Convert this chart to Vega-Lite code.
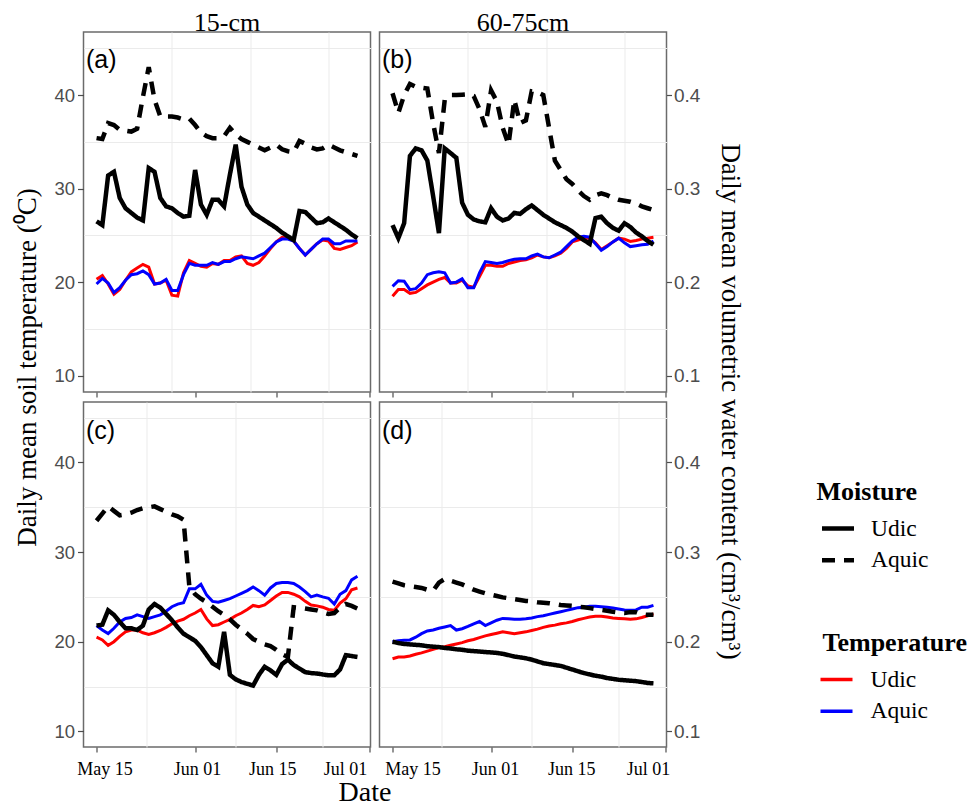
{
"$schema": "https://vega.github.io/schema/vega-lite/v6.json",
"background": "white",
"padding": {"left": 12.5, "top": 8, "right": 0, "bottom": 0},
"config": {
  "view": {"stroke": "#6b6b6b", "strokeWidth": 1.5},
  "axis": {"domain": false, "tickColor": "#4d4d4d", "tickWidth": 1.2, "gridColor": "#ebebeb", "gridWidth": 1, "labelFont": "Liberation Sans", "labelColor": "#4d4d4d", "titleFont": "Liberation Serif", "titleFontWeight": "normal", "titleColor": "black"},
  "title": {"font": "Liberation Serif", "fontSize": 26, "fontWeight": "normal", "color": "black"},
  "legend": {"titleFont": "Liberation Serif", "titleFontSize": 26, "titleFontWeight": "bold", "titleColor": "black", "labelFont": "Liberation Serif", "labelFontSize": 23.5, "labelColor": "black", "symbolType": "stroke", "symbolSize": 1024, "rowPadding": 1.7, "titlePadding": 5.5}
},
"datasets": {
"temp": [
{"p":"a","d":"2019-05-15","Udic":20.3,"Aquic":19.8},{"p":"a","d":"2019-05-16","Udic":20.7,"Aquic":20.4},{"p":"a","d":"2019-05-17","Udic":19.8,"Aquic":19.9},{"p":"a","d":"2019-05-18","Udic":18.7,"Aquic":18.9},{"p":"a","d":"2019-05-19","Udic":19.2,"Aquic":19.4},{"p":"a","d":"2019-05-20","Udic":20.2,"Aquic":20.2},{"p":"a","d":"2019-05-21","Udic":21.1,"Aquic":20.8},{"p":"a","d":"2019-05-22","Udic":21.5,"Aquic":20.9},{"p":"a","d":"2019-05-23","Udic":21.9,"Aquic":21.2},{"p":"a","d":"2019-05-24","Udic":21.6,"Aquic":20.8},{"p":"a","d":"2019-05-25","Udic":19.8,"Aquic":19.8},{"p":"a","d":"2019-05-26","Udic":19.9,"Aquic":19.9},{"p":"a","d":"2019-05-27","Udic":20.2,"Aquic":20.3},{"p":"a","d":"2019-05-28","Udic":18.6,"Aquic":19.1},{"p":"a","d":"2019-05-29","Udic":18.5,"Aquic":19.1},{"p":"a","d":"2019-05-30","Udic":21.0,"Aquic":20.8},{"p":"a","d":"2019-05-31","Udic":22.3,"Aquic":22.0},{"p":"a","d":"2019-06-01","Udic":22.0,"Aquic":21.8},{"p":"a","d":"2019-06-02","Udic":21.7,"Aquic":21.8},{"p":"a","d":"2019-06-03","Udic":21.6,"Aquic":21.8},{"p":"a","d":"2019-06-04","Udic":22.0,"Aquic":22.1},{"p":"a","d":"2019-06-05","Udic":21.9,"Aquic":21.9},{"p":"a","d":"2019-06-06","Udic":22.3,"Aquic":22.2},{"p":"a","d":"2019-06-07","Udic":22.3,"Aquic":22.2},{"p":"a","d":"2019-06-08","Udic":22.7,"Aquic":22.5},{"p":"a","d":"2019-06-09","Udic":22.8,"Aquic":22.7},{"p":"a","d":"2019-06-10","Udic":22.0,"Aquic":22.6},{"p":"a","d":"2019-06-11","Udic":21.8,"Aquic":22.5},{"p":"a","d":"2019-06-12","Udic":22.1,"Aquic":22.8},{"p":"a","d":"2019-06-13","Udic":22.8,"Aquic":23.1},{"p":"a","d":"2019-06-14","Udic":23.6,"Aquic":23.7},{"p":"a","d":"2019-06-15","Udic":24.3,"Aquic":24.3},{"p":"a","d":"2019-06-16","Udic":24.8,"Aquic":24.6},{"p":"a","d":"2019-06-17","Udic":24.7,"Aquic":24.6},{"p":"a","d":"2019-06-18","Udic":24.4,"Aquic":24.4},{"p":"a","d":"2019-06-19","Udic":23.6,"Aquic":23.6},{"p":"a","d":"2019-06-20","Udic":22.9,"Aquic":22.9},{"p":"a","d":"2019-06-21","Udic":23.5,"Aquic":23.5},{"p":"a","d":"2019-06-22","Udic":24.1,"Aquic":24.1},{"p":"a","d":"2019-06-23","Udic":24.5,"Aquic":24.6},{"p":"a","d":"2019-06-24","Udic":24.4,"Aquic":24.6},{"p":"a","d":"2019-06-25","Udic":23.6,"Aquic":24.1},{"p":"a","d":"2019-06-26","Udic":23.5,"Aquic":24.1},{"p":"a","d":"2019-06-27","Udic":23.7,"Aquic":24.4},{"p":"a","d":"2019-06-28","Udic":23.9,"Aquic":24.4},{"p":"a","d":"2019-06-29","Udic":24.3,"Aquic":24.4},
{"p":"b","d":"2019-05-15","Udic":18.5,"Aquic":19.55},{"p":"b","d":"2019-05-16","Udic":19.2,"Aquic":20.15},{"p":"b","d":"2019-05-17","Udic":19.2,"Aquic":20.1},{"p":"b","d":"2019-05-18","Udic":18.8,"Aquic":19.2},{"p":"b","d":"2019-05-19","Udic":18.9,"Aquic":19.3},{"p":"b","d":"2019-05-20","Udic":19.3,"Aquic":19.9},{"p":"b","d":"2019-05-21","Udic":19.7,"Aquic":20.8},{"p":"b","d":"2019-05-22","Udic":20.0,"Aquic":21.0},{"p":"b","d":"2019-05-23","Udic":20.3,"Aquic":21.1},{"p":"b","d":"2019-05-24","Udic":20.5,"Aquic":21.0},{"p":"b","d":"2019-05-25","Udic":19.9,"Aquic":19.9},{"p":"b","d":"2019-05-26","Udic":19.9,"Aquic":20.0},{"p":"b","d":"2019-05-27","Udic":20.2,"Aquic":20.35},{"p":"b","d":"2019-05-28","Udic":19.6,"Aquic":19.4},{"p":"b","d":"2019-05-29","Udic":19.45,"Aquic":19.4},{"p":"b","d":"2019-05-30","Udic":20.6,"Aquic":21.0},{"p":"b","d":"2019-05-31","Udic":21.8,"Aquic":22.2},{"p":"b","d":"2019-06-01","Udic":21.8,"Aquic":22.1},{"p":"b","d":"2019-06-02","Udic":21.7,"Aquic":22.0},{"p":"b","d":"2019-06-03","Udic":21.7,"Aquic":22.1},{"p":"b","d":"2019-06-04","Udic":22.0,"Aquic":22.3},{"p":"b","d":"2019-06-05","Udic":22.15,"Aquic":22.45},{"p":"b","d":"2019-06-06","Udic":22.3,"Aquic":22.5},{"p":"b","d":"2019-06-07","Udic":22.4,"Aquic":22.5},{"p":"b","d":"2019-06-08","Udic":22.6,"Aquic":22.8},{"p":"b","d":"2019-06-09","Udic":22.9,"Aquic":23.0},{"p":"b","d":"2019-06-10","Udic":22.7,"Aquic":22.7},{"p":"b","d":"2019-06-11","Udic":22.6,"Aquic":22.6},{"p":"b","d":"2019-06-12","Udic":22.8,"Aquic":22.9},{"p":"b","d":"2019-06-13","Udic":23.1,"Aquic":23.2},{"p":"b","d":"2019-06-14","Udic":23.6,"Aquic":23.8},{"p":"b","d":"2019-06-15","Udic":24.3,"Aquic":24.4},{"p":"b","d":"2019-06-16","Udic":24.5,"Aquic":24.8},{"p":"b","d":"2019-06-17","Udic":24.7,"Aquic":24.9},{"p":"b","d":"2019-06-18","Udic":24.7,"Aquic":24.8},{"p":"b","d":"2019-06-19","Udic":24.2,"Aquic":24.1},{"p":"b","d":"2019-06-20","Udic":23.5,"Aquic":23.4},{"p":"b","d":"2019-06-21","Udic":23.9,"Aquic":23.8},{"p":"b","d":"2019-06-22","Udic":24.3,"Aquic":24.3},{"p":"b","d":"2019-06-23","Udic":24.7,"Aquic":24.7},{"p":"b","d":"2019-06-24","Udic":24.6,"Aquic":24.2},{"p":"b","d":"2019-06-25","Udic":24.35,"Aquic":23.8},{"p":"b","d":"2019-06-26","Udic":24.45,"Aquic":23.9},{"p":"b","d":"2019-06-27","Udic":24.6,"Aquic":24.0},{"p":"b","d":"2019-06-28","Udic":24.7,"Aquic":24.05},{"p":"b","d":"2019-06-29","Udic":24.8,"Aquic":24.4},
{"p":"c","d":"2019-05-15","Udic":20.5,"Aquic":21.8},{"p":"c","d":"2019-05-16","Udic":20.2,"Aquic":21.3},{"p":"c","d":"2019-05-17","Udic":19.6,"Aquic":20.9},{"p":"c","d":"2019-05-18","Udic":20.0,"Aquic":21.5},{"p":"c","d":"2019-05-19","Udic":20.6,"Aquic":22.2},{"p":"c","d":"2019-05-20","Udic":21.1,"Aquic":22.6},{"p":"c","d":"2019-05-21","Udic":21.3,"Aquic":22.7},{"p":"c","d":"2019-05-22","Udic":21.3,"Aquic":23.0},{"p":"c","d":"2019-05-23","Udic":21.0,"Aquic":22.8},{"p":"c","d":"2019-05-24","Udic":20.8,"Aquic":22.6},{"p":"c","d":"2019-05-25","Udic":21.0,"Aquic":22.8},{"p":"c","d":"2019-05-26","Udic":21.25,"Aquic":23.0},{"p":"c","d":"2019-05-27","Udic":21.6,"Aquic":23.4},{"p":"c","d":"2019-05-28","Udic":22.0,"Aquic":23.9},{"p":"c","d":"2019-05-29","Udic":22.3,"Aquic":24.2},{"p":"c","d":"2019-05-30","Udic":22.5,"Aquic":24.35},{"p":"c","d":"2019-05-31","Udic":22.9,"Aquic":25.9},{"p":"c","d":"2019-06-01","Udic":23.2,"Aquic":25.9},{"p":"c","d":"2019-06-02","Udic":23.6,"Aquic":26.4},{"p":"c","d":"2019-06-03","Udic":22.55,"Aquic":25.2},{"p":"c","d":"2019-06-04","Udic":21.8,"Aquic":24.5},{"p":"c","d":"2019-06-05","Udic":21.9,"Aquic":24.4},{"p":"c","d":"2019-06-06","Udic":22.2,"Aquic":24.6},{"p":"c","d":"2019-06-07","Udic":22.5,"Aquic":24.8},{"p":"c","d":"2019-06-08","Udic":22.9,"Aquic":25.1},{"p":"c","d":"2019-06-09","Udic":23.2,"Aquic":25.4},{"p":"c","d":"2019-06-10","Udic":23.6,"Aquic":25.7},{"p":"c","d":"2019-06-11","Udic":24.05,"Aquic":26.1},{"p":"c","d":"2019-06-12","Udic":23.9,"Aquic":25.7},{"p":"c","d":"2019-06-13","Udic":24.1,"Aquic":25.2},{"p":"c","d":"2019-06-14","Udic":24.6,"Aquic":26.0},{"p":"c","d":"2019-06-15","Udic":25.1,"Aquic":26.5},{"p":"c","d":"2019-06-16","Udic":25.5,"Aquic":26.6},{"p":"c","d":"2019-06-17","Udic":25.5,"Aquic":26.6},{"p":"c","d":"2019-06-18","Udic":25.3,"Aquic":26.5},{"p":"c","d":"2019-06-19","Udic":25.0,"Aquic":26.1},{"p":"c","d":"2019-06-20","Udic":24.5,"Aquic":25.6},{"p":"c","d":"2019-06-21","Udic":24.1,"Aquic":25.0},{"p":"c","d":"2019-06-22","Udic":24.0,"Aquic":25.2},{"p":"c","d":"2019-06-23","Udic":23.85,"Aquic":25.0},{"p":"c","d":"2019-06-24","Udic":23.6,"Aquic":24.85},{"p":"c","d":"2019-06-25","Udic":23.5,"Aquic":24.2},{"p":"c","d":"2019-06-26","Udic":24.3,"Aquic":25.3},{"p":"c","d":"2019-06-27","Udic":24.8,"Aquic":25.7},{"p":"c","d":"2019-06-28","Udic":25.8,"Aquic":26.9},{"p":"c","d":"2019-06-29","Udic":26.0,"Aquic":27.3},
{"p":"d","d":"2019-05-15","Udic":18.1,"Aquic":20.0},{"p":"d","d":"2019-05-16","Udic":18.3,"Aquic":20.1},{"p":"d","d":"2019-05-17","Udic":18.3,"Aquic":20.15},{"p":"d","d":"2019-05-18","Udic":18.4,"Aquic":20.2},{"p":"d","d":"2019-05-19","Udic":18.6,"Aquic":20.5},{"p":"d","d":"2019-05-20","Udic":18.75,"Aquic":20.9},{"p":"d","d":"2019-05-21","Udic":18.95,"Aquic":21.2},{"p":"d","d":"2019-05-22","Udic":19.15,"Aquic":21.3},{"p":"d","d":"2019-05-23","Udic":19.35,"Aquic":21.5},{"p":"d","d":"2019-05-24","Udic":19.45,"Aquic":21.65},{"p":"d","d":"2019-05-25","Udic":19.6,"Aquic":21.8},{"p":"d","d":"2019-05-26","Udic":19.75,"Aquic":21.3},{"p":"d","d":"2019-05-27","Udic":19.9,"Aquic":21.45},{"p":"d","d":"2019-05-28","Udic":20.1,"Aquic":21.7},{"p":"d","d":"2019-05-29","Udic":20.25,"Aquic":22.0},{"p":"d","d":"2019-05-30","Udic":20.45,"Aquic":22.25},{"p":"d","d":"2019-05-31","Udic":20.65,"Aquic":21.8},{"p":"d","d":"2019-06-01","Udic":20.8,"Aquic":22.1},{"p":"d","d":"2019-06-02","Udic":20.95,"Aquic":22.4},{"p":"d","d":"2019-06-03","Udic":21.1,"Aquic":22.6},{"p":"d","d":"2019-06-04","Udic":21.0,"Aquic":22.55},{"p":"d","d":"2019-06-05","Udic":20.9,"Aquic":22.5},{"p":"d","d":"2019-06-06","Udic":21.0,"Aquic":22.5},{"p":"d","d":"2019-06-07","Udic":21.1,"Aquic":22.55},{"p":"d","d":"2019-06-08","Udic":21.25,"Aquic":22.65},{"p":"d","d":"2019-06-09","Udic":21.4,"Aquic":22.8},{"p":"d","d":"2019-06-10","Udic":21.6,"Aquic":22.9},{"p":"d","d":"2019-06-11","Udic":21.75,"Aquic":23.05},{"p":"d","d":"2019-06-12","Udic":21.85,"Aquic":23.2},{"p":"d","d":"2019-06-13","Udic":22.0,"Aquic":23.35},{"p":"d","d":"2019-06-14","Udic":22.1,"Aquic":23.5},{"p":"d","d":"2019-06-15","Udic":22.25,"Aquic":23.65},{"p":"d","d":"2019-06-16","Udic":22.45,"Aquic":23.8},{"p":"d","d":"2019-06-17","Udic":22.6,"Aquic":23.85},{"p":"d","d":"2019-06-18","Udic":22.75,"Aquic":23.95},{"p":"d","d":"2019-06-19","Udic":22.85,"Aquic":23.95},{"p":"d","d":"2019-06-20","Udic":22.85,"Aquic":23.9},{"p":"d","d":"2019-06-21","Udic":22.75,"Aquic":23.85},{"p":"d","d":"2019-06-22","Udic":22.65,"Aquic":23.75},{"p":"d","d":"2019-06-23","Udic":22.6,"Aquic":23.65},{"p":"d","d":"2019-06-24","Udic":22.55,"Aquic":23.55},{"p":"d","d":"2019-06-25","Udic":22.5,"Aquic":23.5},{"p":"d","d":"2019-06-26","Udic":22.55,"Aquic":23.55},{"p":"d","d":"2019-06-27","Udic":22.7,"Aquic":23.85},{"p":"d","d":"2019-06-28","Udic":22.9,"Aquic":23.85},{"p":"d","d":"2019-06-29","Udic":23.1,"Aquic":24.05}
],
"moist": [
{"p":"a","d":"2019-05-15","Udic":0.265,"Aquic":0.354},{"p":"a","d":"2019-05-16","Udic":0.261,"Aquic":0.353},{"p":"a","d":"2019-05-17","Udic":0.314,"Aquic":0.370},{"p":"a","d":"2019-05-18","Udic":0.318,"Aquic":0.368},{"p":"a","d":"2019-05-19","Udic":0.290,"Aquic":0.363},{"p":"a","d":"2019-05-20","Udic":0.279,"Aquic":0.362},{"p":"a","d":"2019-05-21","Udic":0.274,"Aquic":0.361},{"p":"a","d":"2019-05-22","Udic":0.269,"Aquic":0.364},{"p":"a","d":"2019-05-23","Udic":0.266,"Aquic":0.398},{"p":"a","d":"2019-05-24","Udic":0.322,"Aquic":0.430},{"p":"a","d":"2019-05-25","Udic":0.318,"Aquic":0.395},{"p":"a","d":"2019-05-26","Udic":0.290,"Aquic":0.377},{"p":"a","d":"2019-05-27","Udic":0.281,"Aquic":0.377},{"p":"a","d":"2019-05-28","Udic":0.279,"Aquic":0.377},{"p":"a","d":"2019-05-29","Udic":0.274,"Aquic":0.376},{"p":"a","d":"2019-05-30","Udic":0.270,"Aquic":0.374},{"p":"a","d":"2019-05-31","Udic":0.271,"Aquic":0.375},{"p":"a","d":"2019-06-01","Udic":0.320,"Aquic":0.368},{"p":"a","d":"2019-06-02","Udic":0.283,"Aquic":0.360},{"p":"a","d":"2019-06-03","Udic":0.272,"Aquic":0.356},{"p":"a","d":"2019-06-04","Udic":0.288,"Aquic":0.354},{"p":"a","d":"2019-06-05","Udic":0.288,"Aquic":0.354},{"p":"a","d":"2019-06-06","Udic":0.281,"Aquic":0.356},{"p":"a","d":"2019-06-07","Udic":0.315,"Aquic":0.365},{"p":"a","d":"2019-06-08","Udic":0.347,"Aquic":0.358},{"p":"a","d":"2019-06-09","Udic":0.302,"Aquic":0.353},{"p":"a","d":"2019-06-10","Udic":0.283,"Aquic":0.350},{"p":"a","d":"2019-06-11","Udic":0.274,"Aquic":0.347},{"p":"a","d":"2019-06-12","Udic":0.270,"Aquic":0.344},{"p":"a","d":"2019-06-13","Udic":0.266,"Aquic":0.341},{"p":"a","d":"2019-06-14","Udic":0.262,"Aquic":0.344},{"p":"a","d":"2019-06-15","Udic":0.258,"Aquic":0.347},{"p":"a","d":"2019-06-16","Udic":0.253,"Aquic":0.342},{"p":"a","d":"2019-06-17","Udic":0.249,"Aquic":0.340},{"p":"a","d":"2019-06-18","Udic":0.245,"Aquic":0.339},{"p":"a","d":"2019-06-19","Udic":0.276,"Aquic":0.351},{"p":"a","d":"2019-06-20","Udic":0.275,"Aquic":0.348},{"p":"a","d":"2019-06-21","Udic":0.269,"Aquic":0.344},{"p":"a","d":"2019-06-22","Udic":0.263,"Aquic":0.342},{"p":"a","d":"2019-06-23","Udic":0.264,"Aquic":0.343},{"p":"a","d":"2019-06-24","Udic":0.268,"Aquic":0.347},{"p":"a","d":"2019-06-25","Udic":0.264,"Aquic":0.344},{"p":"a","d":"2019-06-26","Udic":0.260,"Aquic":0.341},{"p":"a","d":"2019-06-27","Udic":0.256,"Aquic":0.339},{"p":"a","d":"2019-06-28","Udic":0.251,"Aquic":0.337},{"p":"a","d":"2019-06-29","Udic":0.247,"Aquic":0.335},
{"p":"b","d":"2019-05-15","Udic":0.261,"Aquic":0.402},{"p":"b","d":"2019-05-16","Udic":0.247,"Aquic":0.381},{"p":"b","d":"2019-05-17","Udic":0.263,"Aquic":0.400},{"p":"b","d":"2019-05-18","Udic":0.335,"Aquic":0.412},{"p":"b","d":"2019-05-19","Udic":0.343,"Aquic":0.409},{"p":"b","d":"2019-05-20","Udic":0.341,"Aquic":0.408},{"p":"b","d":"2019-05-21","Udic":0.330,"Aquic":0.407},{"p":"b","d":"2019-05-22","Udic":0.292,"Aquic":0.370},{"p":"b","d":"2019-05-23","Udic":0.2525,"Aquic":0.338},{"p":"b","d":"2019-05-24","Udic":0.343,"Aquic":0.395},{"p":"b","d":"2019-05-25","Udic":0.338,"Aquic":0.400},{"p":"b","d":"2019-05-26","Udic":0.333,"Aquic":0.400},{"p":"b","d":"2019-05-27","Udic":0.285,"Aquic":0.4005},{"p":"b","d":"2019-05-28","Udic":0.272,"Aquic":0.401},{"p":"b","d":"2019-05-29","Udic":0.267,"Aquic":0.399},{"p":"b","d":"2019-05-30","Udic":0.265,"Aquic":0.385},{"p":"b","d":"2019-05-31","Udic":0.264,"Aquic":0.366},{"p":"b","d":"2019-06-01","Udic":0.279,"Aquic":0.405},{"p":"b","d":"2019-06-02","Udic":0.270,"Aquic":0.393},{"p":"b","d":"2019-06-03","Udic":0.266,"Aquic":0.365},{"p":"b","d":"2019-06-04","Udic":0.268,"Aquic":0.347},{"p":"b","d":"2019-06-05","Udic":0.274,"Aquic":0.395},{"p":"b","d":"2019-06-06","Udic":0.273,"Aquic":0.370},{"p":"b","d":"2019-06-07","Udic":0.278,"Aquic":0.373},{"p":"b","d":"2019-06-08","Udic":0.282,"Aquic":0.404},{"p":"b","d":"2019-06-09","Udic":0.277,"Aquic":0.403},{"p":"b","d":"2019-06-10","Udic":0.272,"Aquic":0.400},{"p":"b","d":"2019-06-11","Udic":0.268,"Aquic":0.365},{"p":"b","d":"2019-06-12","Udic":0.264,"Aquic":0.330},{"p":"b","d":"2019-06-13","Udic":0.261,"Aquic":0.320},{"p":"b","d":"2019-06-14","Udic":0.258,"Aquic":0.310},{"p":"b","d":"2019-06-15","Udic":0.254,"Aquic":0.305},{"p":"b","d":"2019-06-16","Udic":0.249,"Aquic":0.298},{"p":"b","d":"2019-06-17","Udic":0.245,"Aquic":0.292},{"p":"b","d":"2019-06-18","Udic":0.241,"Aquic":0.288},{"p":"b","d":"2019-06-19","Udic":0.2685,"Aquic":0.293},{"p":"b","d":"2019-06-20","Udic":0.270,"Aquic":0.295},{"p":"b","d":"2019-06-21","Udic":0.263,"Aquic":0.293},{"p":"b","d":"2019-06-22","Udic":0.258,"Aquic":0.290},{"p":"b","d":"2019-06-23","Udic":0.255,"Aquic":0.288},{"p":"b","d":"2019-06-24","Udic":0.263,"Aquic":0.287},{"p":"b","d":"2019-06-25","Udic":0.259,"Aquic":0.286},{"p":"b","d":"2019-06-26","Udic":0.253,"Aquic":0.284},{"p":"b","d":"2019-06-27","Udic":0.249,"Aquic":0.281},{"p":"b","d":"2019-06-28","Udic":0.244,"Aquic":0.279},{"p":"b","d":"2019-06-29","Udic":0.240,"Aquic":0.277},
{"p":"c","d":"2019-05-15","Udic":0.218,"Aquic":0.335},{"p":"c","d":"2019-05-16","Udic":0.219,"Aquic":0.343},{"p":"c","d":"2019-05-17","Udic":0.235,"Aquic":0.351},{"p":"c","d":"2019-05-18","Udic":0.230,"Aquic":0.346},{"p":"c","d":"2019-05-19","Udic":0.222,"Aquic":0.341},{"p":"c","d":"2019-05-20","Udic":0.215,"Aquic":0.342},{"p":"c","d":"2019-05-21","Udic":0.215,"Aquic":0.344},{"p":"c","d":"2019-05-22","Udic":0.213,"Aquic":0.347},{"p":"c","d":"2019-05-23","Udic":0.218,"Aquic":0.349},{"p":"c","d":"2019-05-24","Udic":0.236,"Aquic":0.350},{"p":"c","d":"2019-05-25","Udic":0.242,"Aquic":0.351},{"p":"c","d":"2019-05-26","Udic":0.238,"Aquic":0.348},{"p":"c","d":"2019-05-27","Udic":0.231,"Aquic":0.345},{"p":"c","d":"2019-05-28","Udic":0.224,"Aquic":0.342},{"p":"c","d":"2019-05-29","Udic":0.216,"Aquic":0.340},{"p":"c","d":"2019-05-30","Udic":0.209,"Aquic":0.336},{"p":"c","d":"2019-05-31","Udic":0.205,"Aquic":0.262},{"p":"c","d":"2019-06-01","Udic":0.201,"Aquic":0.253},{"p":"c","d":"2019-06-02","Udic":0.194,"Aquic":0.248},{"p":"c","d":"2019-06-03","Udic":0.185,"Aquic":0.244},{"p":"c","d":"2019-06-04","Udic":0.176,"Aquic":0.239},{"p":"c","d":"2019-06-05","Udic":0.172,"Aquic":0.234},{"p":"c","d":"2019-06-06","Udic":0.211,"Aquic":0.230},{"p":"c","d":"2019-06-07","Udic":0.163,"Aquic":0.225},{"p":"c","d":"2019-06-08","Udic":0.158,"Aquic":0.219},{"p":"c","d":"2019-06-09","Udic":0.155,"Aquic":0.214},{"p":"c","d":"2019-06-10","Udic":0.153,"Aquic":0.209},{"p":"c","d":"2019-06-11","Udic":0.151,"Aquic":0.203},{"p":"c","d":"2019-06-12","Udic":0.163,"Aquic":0.200},{"p":"c","d":"2019-06-13","Udic":0.172,"Aquic":0.197},{"p":"c","d":"2019-06-14","Udic":0.168,"Aquic":0.195},{"p":"c","d":"2019-06-15","Udic":0.163,"Aquic":0.191},{"p":"c","d":"2019-06-16","Udic":0.175,"Aquic":0.186},{"p":"c","d":"2019-06-17","Udic":0.180,"Aquic":0.183},{"p":"c","d":"2019-06-18","Udic":0.174,"Aquic":0.2385},{"p":"c","d":"2019-06-19","Udic":0.170,"Aquic":0.238},{"p":"c","d":"2019-06-20","Udic":0.166,"Aquic":0.237},{"p":"c","d":"2019-06-21","Udic":0.165,"Aquic":0.236},{"p":"c","d":"2019-06-22","Udic":0.1645,"Aquic":0.235},{"p":"c","d":"2019-06-23","Udic":0.1635,"Aquic":0.233},{"p":"c","d":"2019-06-24","Udic":0.1625,"Aquic":0.231},{"p":"c","d":"2019-06-25","Udic":0.1625,"Aquic":0.232},{"p":"c","d":"2019-06-26","Udic":0.169,"Aquic":0.238},{"p":"c","d":"2019-06-27","Udic":0.185,"Aquic":0.242},{"p":"c","d":"2019-06-28","Udic":0.184,"Aquic":0.240},{"p":"c","d":"2019-06-29","Udic":0.183,"Aquic":0.237},
{"p":"d","d":"2019-05-15","Udic":0.200,"Aquic":0.267},{"p":"d","d":"2019-05-16","Udic":0.1985,"Aquic":0.265},{"p":"d","d":"2019-05-17","Udic":0.1975,"Aquic":0.263},{"p":"d","d":"2019-05-18","Udic":0.197,"Aquic":0.262},{"p":"d","d":"2019-05-19","Udic":0.1965,"Aquic":0.261},{"p":"d","d":"2019-05-20","Udic":0.196,"Aquic":0.260},{"p":"d","d":"2019-05-21","Udic":0.195,"Aquic":0.258},{"p":"d","d":"2019-05-22","Udic":0.1945,"Aquic":0.257},{"p":"d","d":"2019-05-23","Udic":0.194,"Aquic":0.266},{"p":"d","d":"2019-05-24","Udic":0.193,"Aquic":0.270},{"p":"d","d":"2019-05-25","Udic":0.1925,"Aquic":0.268},{"p":"d","d":"2019-05-26","Udic":0.1915,"Aquic":0.266},{"p":"d","d":"2019-05-27","Udic":0.191,"Aquic":0.264},{"p":"d","d":"2019-05-28","Udic":0.190,"Aquic":0.261},{"p":"d","d":"2019-05-29","Udic":0.1895,"Aquic":0.258},{"p":"d","d":"2019-05-30","Udic":0.189,"Aquic":0.256},{"p":"d","d":"2019-05-31","Udic":0.1885,"Aquic":0.254},{"p":"d","d":"2019-06-01","Udic":0.188,"Aquic":0.2525},{"p":"d","d":"2019-06-02","Udic":0.1875,"Aquic":0.251},{"p":"d","d":"2019-06-03","Udic":0.1865,"Aquic":0.2495},{"p":"d","d":"2019-06-04","Udic":0.185,"Aquic":0.2485},{"p":"d","d":"2019-06-05","Udic":0.1835,"Aquic":0.2475},{"p":"d","d":"2019-06-06","Udic":0.1825,"Aquic":0.2465},{"p":"d","d":"2019-06-07","Udic":0.1815,"Aquic":0.2455},{"p":"d","d":"2019-06-08","Udic":0.180,"Aquic":0.245},{"p":"d","d":"2019-06-09","Udic":0.178,"Aquic":0.244},{"p":"d","d":"2019-06-10","Udic":0.176,"Aquic":0.2435},{"p":"d","d":"2019-06-11","Udic":0.175,"Aquic":0.243},{"p":"d","d":"2019-06-12","Udic":0.174,"Aquic":0.242},{"p":"d","d":"2019-06-13","Udic":0.173,"Aquic":0.241},{"p":"d","d":"2019-06-14","Udic":0.171,"Aquic":0.2405},{"p":"d","d":"2019-06-15","Udic":0.169,"Aquic":0.240},{"p":"d","d":"2019-06-16","Udic":0.167,"Aquic":0.239},{"p":"d","d":"2019-06-17","Udic":0.165,"Aquic":0.2385},{"p":"d","d":"2019-06-18","Udic":0.1635,"Aquic":0.2375},{"p":"d","d":"2019-06-19","Udic":0.162,"Aquic":0.2365},{"p":"d","d":"2019-06-20","Udic":0.161,"Aquic":0.2355},{"p":"d","d":"2019-06-21","Udic":0.1595,"Aquic":0.2345},{"p":"d","d":"2019-06-22","Udic":0.1585,"Aquic":0.2335},{"p":"d","d":"2019-06-23","Udic":0.1575,"Aquic":0.2325},{"p":"d","d":"2019-06-24","Udic":0.157,"Aquic":0.232},{"p":"d","d":"2019-06-25","Udic":0.1565,"Aquic":0.233},{"p":"d","d":"2019-06-26","Udic":0.156,"Aquic":0.233},{"p":"d","d":"2019-06-27","Udic":0.155,"Aquic":0.2305},{"p":"d","d":"2019-06-28","Udic":0.154,"Aquic":0.230},{"p":"d","d":"2019-06-29","Udic":0.1535,"Aquic":0.230}
]
},
"columns": 2,
"spacing": {"row": 10, "column": 9},
"bounds": "flush",
"concat": [
{
  "width": 287, "height": 360,
  "title": {"text": "15-cm", "anchor": "middle", "frame": "group", "baseline": "alphabetic", "offset": -24.5},
  "layer": [
    {
      "data": {"name": "temp"},
      "transform": [{"filter": "datum.p == 'a'"}, {"fold": ["Udic", "Aquic"], "as": ["tcls", "tv"]}],
      "mark": {"type": "line", "strokeWidth": 3},
      "encoding": {
        "x": {"field": "d", "type": "temporal", "scale": {"domain": [{"year": 2019, "month": 5, "date": 12, "hours": 18}, {"year": 2019, "month": 7, "date": 1, "hours": 6}]},
              "axis": {"orient": "bottom", "values": [{"year": 2019, "month": 5, "date": 15}, {"year": 2019, "month": 6, "date": 1}, {"year": 2019, "month": 6, "date": 15}, {"year": 2019, "month": 7, "date": 1}], "grid": false, "labels": false, "tickSize": 5, "title": null}},
        "y": {"field": "tv", "type": "quantitative", "scale": {"domain": [8.25, 46.75], "nice": false, "zero": false},
              "axis": {"orient": "left", "values": [10, 20, 30, 40], "grid": false, "tickSize": 6, "labelFontSize": 18.5, "labelPadding": 3, "title": "Daily mean soil temperature (⁰C)", "titleFontSize": 27, "titleAngle": -90, "titleX": -56, "titleY": 335, "titleAlign": "center", "titleBaseline": "middle"}},
        "color": {"field": "tcls", "type": "nominal", "title": "Temperature", "scale": {"domain": ["Udic", "Aquic"], "range": ["#ff0000", "#0000ff"]},
                  "legend": {"orient": "none", "legendX": 739, "legendY": 598, "symbolStrokeWidth": 3.5, "symbolOffset": -4, "labelOffset": 16}}
      }
    },
    {
      "data": {"name": "moist"},
      "transform": [{"filter": "datum.p == 'a'"}, {"fold": ["Udic", "Aquic"], "as": ["mcls", "mv"]}],
      "mark": {"type": "line", "strokeWidth": 4.5, "color": "black"},
      "encoding": {
        "x": {"field": "d", "type": "temporal", "scale": {"domain": [{"year": 2019, "month": 5, "date": 12, "hours": 18}, {"year": 2019, "month": 7, "date": 1, "hours": 6}]},
              "axis": {"orient": "top", "values": [{"year": 2019, "month": 5, "date": 28}, {"year": 2019, "month": 6, "date": 10, "hours": 12}, {"year": 2019, "month": 6, "date": 24}], "grid": true, "labels": false, "ticks": false, "title": "(a)", "titleFont": "Liberation Sans", "titleFontSize": 25, "titleX": 2, "titleY": 35, "titleAlign": "left", "titleBaseline": "alphabetic", "titleAngle": 0}},
        "y": {"field": "mv", "type": "quantitative", "scale": {"domain": [0.0825, 0.4675], "nice": false, "zero": false},
              "axis": {"orient": "right", "values": [0.15, 0.25, 0.35, 0.45], "grid": true, "labels": false, "ticks": false, "title": null}},
        "strokeDash": {"field": "mcls", "type": "nominal", "title": "Moisture", "scale": {"domain": ["Aquic", "Udic"], "range": [[13, 9], [1, 0]]},
                       "legend": {"orient": "none", "legendX": 733, "legendY": 446.5, "values": ["Udic", "Aquic"], "symbolStrokeWidth": 4.5, "symbolStrokeColor": "black", "symbolOffset": 3, "labelOffset": 14.5}}
      }
    }
  ],
  "resolve": {"scale": {"y": "independent"}, "axis": {"x": "independent"}}
},
{
  "width": 287, "height": 360,
  "title": {"text": "60-75cm", "anchor": "middle", "frame": "group", "baseline": "alphabetic", "offset": -24.5},
  "layer": [
    {
      "data": {"name": "temp"},
      "transform": [{"filter": "datum.p == 'b'"}, {"fold": ["Udic", "Aquic"], "as": ["tcls", "tv"]}],
      "mark": {"type": "line", "strokeWidth": 3},
      "encoding": {
        "x": {"field": "d", "type": "temporal", "scale": {"domain": [{"year": 2019, "month": 5, "date": 12, "hours": 18}, {"year": 2019, "month": 7, "date": 1, "hours": 6}]},
              "axis": {"orient": "bottom", "values": [{"year": 2019, "month": 5, "date": 15}, {"year": 2019, "month": 6, "date": 1}, {"year": 2019, "month": 6, "date": 15}, {"year": 2019, "month": 7, "date": 1}], "grid": false, "labels": false, "tickSize": 5, "title": null}},
        "y": {"field": "tv", "type": "quantitative", "scale": {"domain": [8.25, 46.75], "nice": false, "zero": false},
              "axis": {"orient": "left", "values": [15, 25, 35, 45], "grid": true, "labels": false, "ticks": false, "title": null}},
        "color": {"field": "tcls", "type": "nominal", "title": "Temperature", "scale": {"domain": ["Udic", "Aquic"], "range": ["#ff0000", "#0000ff"]},
                  "legend": {"orient": "none", "legendX": 739, "legendY": 598, "symbolStrokeWidth": 3.5, "symbolOffset": -4, "labelOffset": 16}}
      }
    },
    {
      "data": {"name": "moist"},
      "transform": [{"filter": "datum.p == 'b'"}, {"fold": ["Udic", "Aquic"], "as": ["mcls", "mv"]}],
      "mark": {"type": "line", "strokeWidth": 4.5, "color": "black"},
      "encoding": {
        "x": {"field": "d", "type": "temporal", "scale": {"domain": [{"year": 2019, "month": 5, "date": 12, "hours": 18}, {"year": 2019, "month": 7, "date": 1, "hours": 6}]},
              "axis": {"orient": "top", "values": [{"year": 2019, "month": 5, "date": 28}, {"year": 2019, "month": 6, "date": 10, "hours": 12}, {"year": 2019, "month": 6, "date": 24}], "grid": true, "labels": false, "ticks": false, "title": "(b)", "titleFont": "Liberation Sans", "titleFontSize": 25, "titleX": 2, "titleY": 35, "titleAlign": "left", "titleBaseline": "alphabetic", "titleAngle": 0}},
        "y": {"field": "mv", "type": "quantitative", "scale": {"domain": [0.0825, 0.4675], "nice": false, "zero": false},
              "axis": {"orient": "right", "values": [0.1, 0.2, 0.3, 0.4], "format": ".1f", "grid": false, "tickSize": 5, "labelFontSize": 19, "labelPadding": 2, "title": "Daily mean volumetric water content (cm³/cm³)", "titleFontSize": 27, "titleAngle": 90, "titleX": 63, "titleY": 369, "titleAlign": "center", "titleBaseline": "middle"}},
        "strokeDash": {"field": "mcls", "type": "nominal", "title": "Moisture", "scale": {"domain": ["Aquic", "Udic"], "range": [[13, 9], [1, 0]]},
                       "legend": {"orient": "none", "legendX": 733, "legendY": 446.5, "values": ["Udic", "Aquic"], "symbolStrokeWidth": 4.5, "symbolStrokeColor": "black", "symbolOffset": 3, "labelOffset": 14.5}}
      }
    }
  ],
  "resolve": {"scale": {"y": "independent"}, "axis": {"x": "independent"}}
},
{
  "width": 287, "height": 345,
  "layer": [
    {
      "data": {"name": "temp"},
      "transform": [{"filter": "datum.p == 'c'"}, {"fold": ["Udic", "Aquic"], "as": ["tcls", "tv"]}],
      "mark": {"type": "line", "strokeWidth": 3},
      "encoding": {
        "x": {"field": "d", "type": "temporal", "scale": {"domain": [{"year": 2019, "month": 5, "date": 12, "hours": 18}, {"year": 2019, "month": 7, "date": 1, "hours": 6}]},
              "axis": {"orient": "bottom", "values": [{"year": 2019, "month": 5, "date": 15}, {"year": 2019, "month": 6, "date": 1}, {"year": 2019, "month": 6, "date": 15}, {"year": 2019, "month": 7, "date": 1}], "format": "%b %d", "grid": false, "tickSize": 5, "labelFont": "Liberation Serif", "labelFontSize": 18, "labelColor": "black", "labelPadding": 8, "labelFlush": false, "labelOverlap": false,
                       "labelOffset": {"condition": [{"test": "month(datum.value)==4", "value": 8}, {"test": "month(datum.value)==6", "value": -24}, {"test": "date(datum.value)==15", "value": -4}], "value": 2},
                       "title": "Date", "titleFontSize": 28, "titleX": 281, "titleY": 53, "titleAlign": "center", "titleBaseline": "alphabetic"}},
        "y": {"field": "tv", "type": "quantitative", "scale": {"domain": [8.25, 46.75], "nice": false, "zero": false},
              "axis": {"orient": "left", "values": [10, 20, 30, 40], "grid": false, "tickSize": 6, "labelFontSize": 18.5, "labelPadding": 3, "title": null}},
        "color": {"field": "tcls", "type": "nominal", "title": "Temperature", "scale": {"domain": ["Udic", "Aquic"], "range": ["#ff0000", "#0000ff"]},
                  "legend": {"orient": "none", "legendX": 739, "legendY": 598, "symbolStrokeWidth": 3.5, "symbolOffset": -4, "labelOffset": 16}}
      }
    },
    {
      "data": {"name": "moist"},
      "transform": [{"filter": "datum.p == 'c'"}, {"fold": ["Udic", "Aquic"], "as": ["mcls", "mv"]}],
      "mark": {"type": "line", "strokeWidth": 4.5, "color": "black"},
      "encoding": {
        "x": {"field": "d", "type": "temporal", "scale": {"domain": [{"year": 2019, "month": 5, "date": 12, "hours": 18}, {"year": 2019, "month": 7, "date": 1, "hours": 6}]},
              "axis": {"orient": "top", "values": [{"year": 2019, "month": 5, "date": 23, "hours": 14}, {"year": 2019, "month": 6, "date": 8}, {"year": 2019, "month": 6, "date": 23}], "grid": true, "labels": false, "ticks": false, "title": "(c)", "titleFont": "Liberation Sans", "titleFontSize": 25, "titleX": 2, "titleY": 36, "titleAlign": "left", "titleBaseline": "alphabetic", "titleAngle": 0}},
        "y": {"field": "mv", "type": "quantitative", "scale": {"domain": [0.0825, 0.4675], "nice": false, "zero": false},
              "axis": {"orient": "right", "values": [0.15, 0.25, 0.35, 0.45], "grid": true, "labels": false, "ticks": false, "title": null}},
        "strokeDash": {"field": "mcls", "type": "nominal", "title": "Moisture", "scale": {"domain": ["Aquic", "Udic"], "range": [[13, 9], [1, 0]]},
                       "legend": {"orient": "none", "legendX": 733, "legendY": 446.5, "values": ["Udic", "Aquic"], "symbolStrokeWidth": 4.5, "symbolStrokeColor": "black", "symbolOffset": 3, "labelOffset": 14.5}}
      }
    }
  ],
  "resolve": {"scale": {"y": "independent"}, "axis": {"x": "independent"}}
},
{
  "width": 287, "height": 345,
  "layer": [
    {
      "data": {"name": "temp"},
      "transform": [{"filter": "datum.p == 'd'"}, {"fold": ["Udic", "Aquic"], "as": ["tcls", "tv"]}],
      "mark": {"type": "line", "strokeWidth": 3},
      "encoding": {
        "x": {"field": "d", "type": "temporal", "scale": {"domain": [{"year": 2019, "month": 5, "date": 12, "hours": 18}, {"year": 2019, "month": 7, "date": 1, "hours": 6}]},
              "axis": {"orient": "bottom", "values": [{"year": 2019, "month": 5, "date": 15}, {"year": 2019, "month": 6, "date": 1}, {"year": 2019, "month": 6, "date": 15}, {"year": 2019, "month": 7, "date": 1}], "format": "%b %d", "grid": false, "tickSize": 5, "labelFont": "Liberation Serif", "labelFontSize": 18, "labelColor": "black", "labelPadding": 8, "labelFlush": false, "labelOverlap": false,
                       "labelOffset": {"condition": [{"test": "month(datum.value)==4", "value": 20}, {"test": "month(datum.value)==6", "value": -17}, {"test": "date(datum.value)==15", "value": -1}], "value": 4},
                       "title": null}},
        "y": {"field": "tv", "type": "quantitative", "scale": {"domain": [8.25, 46.75], "nice": false, "zero": false},
              "axis": {"orient": "left", "values": [15, 25, 35, 45], "grid": true, "labels": false, "ticks": false, "title": null}},
        "color": {"field": "tcls", "type": "nominal", "title": "Temperature", "scale": {"domain": ["Udic", "Aquic"], "range": ["#ff0000", "#0000ff"]},
                  "legend": {"orient": "none", "legendX": 739, "legendY": 598, "symbolStrokeWidth": 3.5, "symbolOffset": -4, "labelOffset": 16}}
      }
    },
    {
      "data": {"name": "moist"},
      "transform": [{"filter": "datum.p == 'd'"}, {"fold": ["Udic", "Aquic"], "as": ["mcls", "mv"]}],
      "mark": {"type": "line", "strokeWidth": 4.5, "color": "black"},
      "encoding": {
        "x": {"field": "d", "type": "temporal", "scale": {"domain": [{"year": 2019, "month": 5, "date": 12, "hours": 18}, {"year": 2019, "month": 7, "date": 1, "hours": 6}]},
              "axis": {"orient": "top", "values": [{"year": 2019, "month": 5, "date": 23, "hours": 12}, {"year": 2019, "month": 6, "date": 8}, {"year": 2019, "month": 6, "date": 23}], "grid": true, "labels": false, "ticks": false, "title": "(d)", "titleFont": "Liberation Sans", "titleFontSize": 25, "titleX": 2, "titleY": 36, "titleAlign": "left", "titleBaseline": "alphabetic", "titleAngle": 0}},
        "y": {"field": "mv", "type": "quantitative", "scale": {"domain": [0.0825, 0.4675], "nice": false, "zero": false},
              "axis": {"orient": "right", "values": [0.1, 0.2, 0.3, 0.4], "format": ".1f", "grid": false, "tickSize": 5, "labelFontSize": 19, "labelPadding": 2, "title": null}},
        "strokeDash": {"field": "mcls", "type": "nominal", "title": "Moisture", "scale": {"domain": ["Aquic", "Udic"], "range": [[13, 9], [1, 0]]},
                       "legend": {"orient": "none", "legendX": 733, "legendY": 446.5, "values": ["Udic", "Aquic"], "symbolStrokeWidth": 4.5, "symbolStrokeColor": "black", "symbolOffset": 3, "labelOffset": 14.5}}
      }
    }
  ],
  "resolve": {"scale": {"y": "independent"}, "axis": {"x": "independent"}}
}
]
}
